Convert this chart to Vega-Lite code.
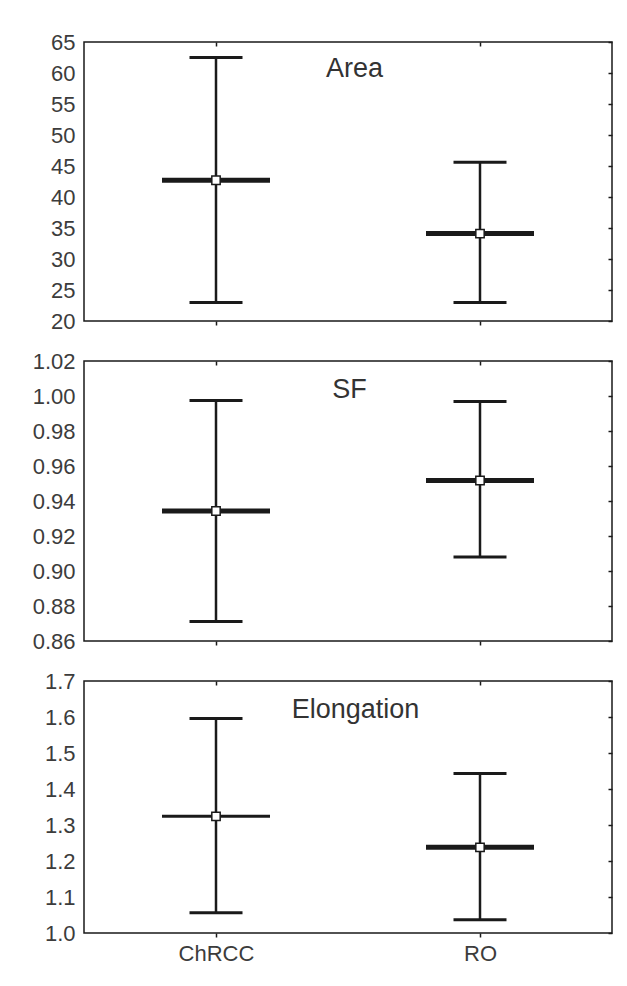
{
  "$schema": "https://vega.github.io/schema/vega-lite/v6.json",
  "padding": {"left": 31, "top": 30, "right": 10, "bottom": 5},
  "background": "white",
  "data": {"values": [
    {"panel": "Area", "group": "ChRCC", "lo": 23.0, "hi": 62.5, "mean": 42.7},
    {"panel": "Area", "group": "RO", "lo": 23.0, "hi": 45.6, "mean": 34.1},
    {"panel": "SF", "group": "ChRCC", "lo": 0.8712, "hi": 0.9975, "mean": 0.9343},
    {"panel": "SF", "group": "RO", "lo": 0.908, "hi": 0.9968, "mean": 0.9517},
    {"panel": "Elongation", "group": "ChRCC", "lo": 1.056, "hi": 1.596, "mean": 1.324},
    {"panel": "Elongation", "group": "RO", "lo": 1.037, "hi": 1.443, "mean": 1.238}
  ]},
  "spacing": 16,
  "vconcat": [
    {
      "width": 528, "height": 279,
      "transform": [{"filter": "datum.panel === 'Area'"}],
      "layer": [
        {"mark": {"type": "rule", "strokeWidth": 2.5, "color": "#1a1a1a"},
         "encoding": {
           "x": {"field": "group", "type": "nominal", "scale": {"type": "point", "padding": 0.5},
                 "axis": {"orient": "bottom", "title": null, "labels": false, "domain": false, "tickSize": 4, "grid": false}},
           "y": {"field": "lo", "type": "quantitative", "scale": {"domain": [20, 65], "nice": false, "zero": false},
                 "axis": {"orient": "left", "title": null, "values": [20,25,30,35,40,45,50,55,60,65], "format": "d", "ticks": false, "domain": false, "grid": false, "labelPadding": 9}},
           "y2": {"field": "hi"}}},
        {"mark": {"type": "tick", "size": 53, "thickness": 3, "color": "#1a1a1a", "opacity": 1},
         "encoding": {
           "x": {"field": "group", "type": "nominal", "axis": {"orient": "top", "title": "Area", "titleX": 270, "titleY": 34, "titleBaseline": "alphabetic", "titleAlign": "center", "labels": false, "domain": false, "tickSize": -4, "grid": false}},
           "y": {"field": "lo", "type": "quantitative", "axis": {"orient": "right", "title": null, "values": [20,25,30,35,40,45,50,55,60,65], "labels": false, "domain": false, "tickSize": -4, "grid": false}}}},
        {"mark": {"type": "tick", "size": 53, "thickness": 3, "color": "#1a1a1a", "opacity": 1},
         "encoding": {"x": {"field": "group", "type": "nominal", "axis": null}, "y": {"field": "hi", "type": "quantitative", "axis": null}}},
        {"mark": {"type": "tick", "size": 108, "thickness": 5, "color": "#1a1a1a", "opacity": 1},
         "encoding": {"x": {"field": "group", "type": "nominal", "axis": null}, "y": {"field": "mean", "type": "quantitative", "axis": null}}},
        {"mark": {"type": "point", "shape": "square", "size": 70, "filled": true, "fill": "white", "stroke": "#1a1a1a", "strokeWidth": 1.5, "opacity": 1},
         "encoding": {"x": {"field": "group", "type": "nominal", "axis": null}, "y": {"field": "mean", "type": "quantitative", "axis": null}}}
      ],
      "resolve": {"axis": {"x": "independent", "y": "independent"}}
    },
    {
      "width": 528, "height": 280,
      "transform": [{"filter": "datum.panel === 'SF'"}],
      "layer": [
        {"mark": {"type": "rule", "strokeWidth": 2.5, "color": "#1a1a1a"},
         "encoding": {
           "x": {"field": "group", "type": "nominal", "scale": {"type": "point", "padding": 0.5},
                 "axis": {"orient": "bottom", "title": null, "labels": false, "domain": false, "tickSize": 4, "grid": false}},
           "y": {"field": "lo", "type": "quantitative", "scale": {"domain": [0.86, 1.02], "nice": false, "zero": false},
                 "axis": {"orient": "left", "title": null, "values": [0.86,0.88,0.9,0.92,0.94,0.96,0.98,1.0,1.02], "format": ".2f", "ticks": false, "domain": false, "grid": false, "labelPadding": 9}},
           "y2": {"field": "hi"}}},
        {"mark": {"type": "tick", "size": 53, "thickness": 3, "color": "#1a1a1a", "opacity": 1},
         "encoding": {
           "x": {"field": "group", "type": "nominal", "axis": {"orient": "top", "title": "SF", "titleX": 265, "titleY": 36, "titleBaseline": "alphabetic", "titleAlign": "center", "labels": false, "domain": false, "tickSize": -4, "grid": false}},
           "y": {"field": "lo", "type": "quantitative", "axis": {"orient": "right", "title": null, "values": [0.86,0.88,0.9,0.92,0.94,0.96,0.98,1.0,1.02], "labels": false, "domain": false, "tickSize": -4, "grid": false}}}},
        {"mark": {"type": "tick", "size": 53, "thickness": 3, "color": "#1a1a1a", "opacity": 1},
         "encoding": {"x": {"field": "group", "type": "nominal", "axis": null}, "y": {"field": "hi", "type": "quantitative", "axis": null}}},
        {"mark": {"type": "tick", "size": 108, "thickness": 5, "color": "#1a1a1a", "opacity": 1},
         "encoding": {"x": {"field": "group", "type": "nominal", "axis": null}, "y": {"field": "mean", "type": "quantitative", "axis": null}}},
        {"mark": {"type": "point", "shape": "square", "size": 70, "filled": true, "fill": "white", "stroke": "#1a1a1a", "strokeWidth": 1.5, "opacity": 1},
         "encoding": {"x": {"field": "group", "type": "nominal", "axis": null}, "y": {"field": "mean", "type": "quantitative", "axis": null}}}
      ],
      "resolve": {"axis": {"x": "independent", "y": "independent"}}
    },
    {
      "width": 528, "height": 252,
      "transform": [{"filter": "datum.panel === 'Elongation'"}],
      "layer": [
        {"mark": {"type": "rule", "strokeWidth": 2.5, "color": "#1a1a1a"},
         "encoding": {
           "x": {"field": "group", "type": "nominal", "scale": {"type": "point", "padding": 0.5},
                 "axis": {"orient": "bottom", "title": null, "labels": true, "domain": false, "tickSize": 4, "grid": false, "labelPadding": 6, "labelAngle": 0}},
           "y": {"field": "lo", "type": "quantitative", "scale": {"domain": [1.0, 1.7], "nice": false, "zero": false},
                 "axis": {"orient": "left", "title": null, "values": [1.0,1.1,1.2,1.3,1.4,1.5,1.6,1.7], "format": ".1f", "ticks": false, "domain": false, "grid": false, "labelPadding": 9}},
           "y2": {"field": "hi"}}},
        {"mark": {"type": "tick", "size": 53, "thickness": 3, "color": "#1a1a1a", "opacity": 1},
         "encoding": {
           "x": {"field": "group", "type": "nominal", "axis": {"orient": "top", "title": "Elongation", "titleX": 271, "titleY": 36, "titleBaseline": "alphabetic", "titleAlign": "center", "labels": false, "domain": false, "tickSize": -4, "grid": false}},
           "y": {"field": "lo", "type": "quantitative", "axis": {"orient": "right", "title": null, "values": [1.0,1.1,1.2,1.3,1.4,1.5,1.6,1.7], "labels": false, "domain": false, "tickSize": -4, "grid": false}}}},
        {"mark": {"type": "tick", "size": 53, "thickness": 3, "color": "#1a1a1a", "opacity": 1},
         "encoding": {"x": {"field": "group", "type": "nominal", "axis": null}, "y": {"field": "hi", "type": "quantitative", "axis": null}}},
        {"transform": [{"filter": "datum.group === 'ChRCC'"}],
         "mark": {"type": "tick", "size": 108, "thickness": 3, "color": "#1a1a1a", "opacity": 1},
         "encoding": {"x": {"field": "group", "type": "nominal", "axis": null}, "y": {"field": "mean", "type": "quantitative", "axis": null}}},
        {"transform": [{"filter": "datum.group === 'RO'"}],
         "mark": {"type": "tick", "size": 108, "thickness": 5, "color": "#1a1a1a", "opacity": 1},
         "encoding": {"x": {"field": "group", "type": "nominal", "axis": null}, "y": {"field": "mean", "type": "quantitative", "axis": null}}},
        {"mark": {"type": "point", "shape": "square", "size": 70, "filled": true, "fill": "white", "stroke": "#1a1a1a", "strokeWidth": 1.5, "opacity": 1},
         "encoding": {"x": {"field": "group", "type": "nominal", "axis": null}, "y": {"field": "mean", "type": "quantitative", "axis": null}}}
      ],
      "resolve": {"axis": {"x": "independent", "y": "independent"}}
    }
  ],
  "config": {
    "font": "Liberation Sans",
    "view": {"stroke": "#1a1a1a", "strokeWidth": 1.5},
    "axis": {"labelFont": "Liberation Sans", "labelFontSize": 22, "labelColor": "#3c3c3c", "tickColor": "#1a1a1a", "tickWidth": 1.5,
             "titleFont": "Liberation Sans", "titleFontSize": 27, "titleFontWeight": "normal", "titleColor": "#333333"}
  }
}
